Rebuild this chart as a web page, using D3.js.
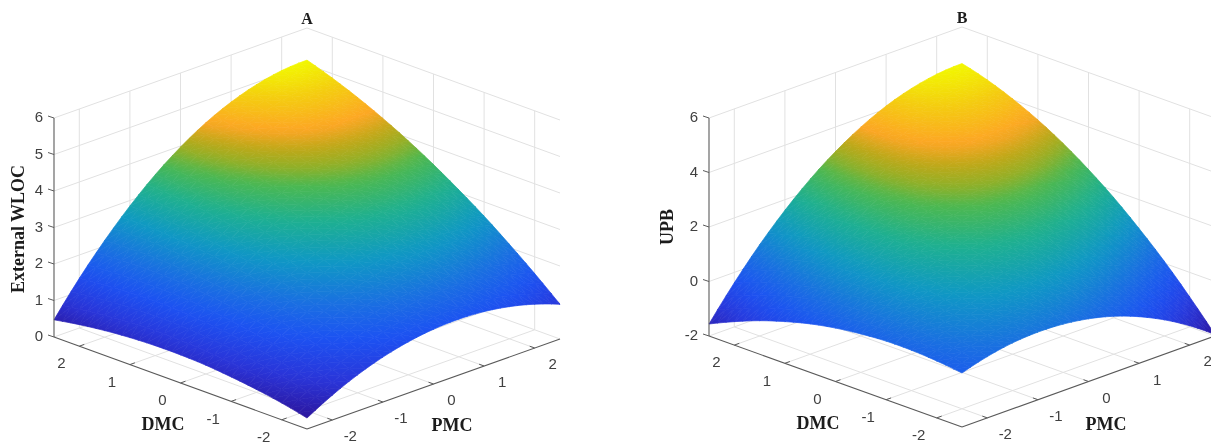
<!DOCTYPE html>
<html>
<head>
<meta charset="utf-8">
<title>External WLOC and UPB response surfaces</title>
<script src="https://d3js.org/d3.v7.min.js"></script>
<style>
    html, body { margin: 0; padding: 0; background: #fff; overflow: hidden; }
    svg { display: block; filter: blur(0.45px); }
</style>
</head>
<body>
<script>
// grid positions of the surfaces, same for DMC and PMC
const gridValues = [-2.5, -2, -1.5, -1, -0.5, 0, 0.5, 1, 1.5, 2, 2.5];
const axisTicks = [-2, -1, 0, 1, 2];
const axisLimits = [-2.5, 2.5];

// panel A, one row per DMC value, one column per PMC value
const wlocValues = [
    [0.30, 0.68, 0.99, 1.23, 1.40, 1.50, 1.53, 1.49, 1.38, 1.20, 0.95],
    [0.46, 0.89, 1.25, 1.54, 1.76, 1.90, 1.98, 1.98, 1.90, 1.76, 1.54],
    [0.58, 1.07, 1.48, 1.82, 2.08, 2.27, 2.39, 2.43, 2.39, 2.28, 2.09],
    [0.67, 1.21, 1.68, 2.07, 2.37, 2.61, 2.76, 2.84, 2.84, 2.76, 2.61],
    [0.74, 1.33, 1.84, 2.28, 2.63, 2.91, 3.10, 3.22, 3.25, 3.21, 3.08],
    [0.77, 1.41, 1.98, 2.46, 2.85, 3.17, 3.40, 3.56, 3.63, 3.61, 3.52],
    [0.77, 1.47, 2.08, 2.60, 3.04, 3.40, 3.67, 3.86, 3.96, 3.98, 3.92],
    [0.74, 1.49, 2.14, 2.71, 3.20, 3.59, 3.90, 4.13, 4.26, 4.31, 4.28],
    [0.68, 1.47, 2.18, 2.79, 3.32, 3.75, 4.10, 4.36, 4.53, 4.61, 4.60],
    [0.59, 1.43, 2.18, 2.84, 3.41, 3.88, 4.26, 4.55, 4.75, 4.86, 4.88],
    [0.47, 1.36, 2.15, 2.85, 3.46, 3.97, 4.39, 4.71, 4.94, 5.08, 5.12]
];

// panel B, same layout
const upbValues = [
    [-0.02, 0.25, 0.42, 0.48, 0.44, 0.30, 0.06, -0.29, -0.74, -1.29, -1.95],
    [0.09, 0.47, 0.74, 0.90, 0.96, 0.91, 0.76, 0.50, 0.14, -0.33, -0.90],
    [0.15, 0.63, 0.99, 1.25, 1.40, 1.45, 1.39, 1.22, 0.94, 0.56, 0.07],
    [0.15, 0.72, 1.18, 1.54, 1.78, 1.91, 1.94, 1.85, 1.66, 1.36, 0.94],
    [0.08, 0.75, 1.31, 1.75, 2.08, 2.30, 2.41, 2.41, 2.30, 2.07, 1.74],
    [-0.04, 0.72, 1.37, 1.90, 2.32, 2.62, 2.81, 2.89, 2.85, 2.70, 2.44],
    [-0.22, 0.63, 1.36, 1.98, 2.48, 2.86, 3.13, 3.29, 3.33, 3.25, 3.06],
    [-0.47, 0.47, 1.29, 1.99, 2.57, 3.03, 3.38, 3.61, 3.72, 3.71, 3.59],
    [-0.77, 0.25, 1.15, 1.93, 2.59, 3.13, 3.55, 3.85, 4.03, 4.09, 4.03],
    [-1.14, -0.04, 0.94, 1.80, 2.54, 3.15, 3.64, 4.01, 4.26, 4.38, 4.39],
    [-1.56, -0.38, 0.68, 1.61, 2.42, 3.10, 3.66, 4.10, 4.41, 4.60, 4.66]
];

// colour map, position is share of the z range
const colorStops = [0, 0.12, 0.25, 0.35, 0.48, 0.6, 0.7, 0.75, 0.8, 0.85, 0.93, 1];
const colorValues = ["#2c169e", "#2a34d8", "#1c52f2", "#1a6ee2", "#0f98c4", "#1eb090",
                     "#4cb850", "#90b028", "#c0a818", "#fda624", "#f4cc10", "#f2f700"];

const wlocTicks = [0, 1, 2, 3, 4, 5, 6];
const upbTicks = [-2, 0, 2, 4, 6];

const WIDTH = 1211;
const HEIGHT = 444;
const CELL_STEPS = 3; // each grid cell is painted in smaller pieces so no facets show

const svg = d3.select("body").append("svg")
    .attr("width", WIDTH)
    .attr("height", HEIGHT);
const defs = svg.append("defs");

const gridColor = "#e1e1e1";
const axisColor = "#5a5a5a";
const textColor = "#404040";
const sansFont = "'Liberation Sans', Arial, sans-serif";
const serifFont = "'Liberation Serif', 'Times New Roman', serif";

let gradientCount = 0;

// cubic through four neighbours, only used to paint between the grid values
function spline(a, b, c, d, t) {
    return b + 0.5 * t * (c - a + t * (2 * a - 5 * b + 4 * c - d + t * (3 * (b - c) + d - a)));
}

function pickAlong(row, i, t) {
    const n = row.length - 1;
    const at = k => k < 0 ? 3 * row[0] - 3 * row[1] + row[2]
        : k > n ? 3 * row[n] - 3 * row[n - 1] + row[n - 2]
        : row[k];
    return spline(at(i - 1), at(i), at(i + 1), at(i + 2), t);
}

function surfaceAt(values, i, j, s, t) {
    if (t === 1) { j += 1; t = 0; }
    if (s === 1) { i += 1; s = 0; }
    if (j >= values[0].length - 1) { j = values[0].length - 2; t = 1; }
    if (i >= values.length - 1) { i = values.length - 2; s = 1; }
    const column = values.map(row => pickAlong(row, j, t));
    return pickAlong(column, i, s);
}

function drawPanel(opt) {
    const g = svg.append("g").attr("id", "panel-" + opt.title);

    // the two floor axes run left->front and front->right on screen
    const xD = d3.scaleLinear().domain(axisLimits).range([0, -opt.spanX]);
    const xP = d3.scaleLinear().domain(axisLimits).range([0, opt.spanX]);
    const yD = d3.scaleLinear().domain(axisLimits).range([0, -opt.riseD]);
    const yP = d3.scaleLinear().domain(axisLimits).range([0, -opt.riseP]);
    const zS = d3.scaleLinear().domain(opt.zDomain).range([0, -opt.zHeight]);

    const project = (d, p, z) => [
        opt.frontX + xD(d) + xP(p),
        opt.frontY + yD(d) + yP(p) + zS(z)
    ];

    const line = (a, b, color, width) => g.append("line")
        .attr("x1", a[0]).attr("y1", a[1])
        .attr("x2", b[0]).attr("y2", b[1])
        .style("stroke", color)
        .style("stroke-width", width);

    const dLo = axisLimits[0], dHi = axisLimits[1];
    const zLo = opt.zDomain[0], zHi = opt.zDomain[1];

    // floor grid
    axisTicks.forEach(t => {
        line(project(t, dLo, zLo), project(t, dHi, zLo), gridColor, 1);
        line(project(dLo, t, zLo), project(dHi, t, zLo), gridColor, 1);
        // verticals on the two back walls
        line(project(dHi, t, zLo), project(dHi, t, zHi), gridColor, 1);
        line(project(t, dHi, zLo), project(t, dHi, zHi), gridColor, 1);
    });
    // horizontals on the back walls
    opt.zTicks.forEach(t => {
        line(project(dHi, dLo, t), project(dHi, dHi, t), gridColor, 1);
        line(project(dHi, dHi, t), project(dLo, dHi, t), gridColor, 1);
    });

    // surface colours
    const zAll = opt.values.flat();
    const zMin = d3.min(zAll), zMax = d3.max(zAll);
    const share = d3.scaleLinear().domain([zMin, zMax]).range([0, 1]);
    const colormap = d3.scaleLinear().domain(colorStops).range(colorValues);

    // each triangle gets a gradient along its steepest screen direction
    function drawTriangle(group, pts) {
        const s = pts.map(q => project(q[0], q[1], q[2]));
        const z = pts.map(q => q[2]);
        const x1 = s[1][0] - s[0][0], y1 = s[1][1] - s[0][1], z1 = z[1] - z[0];
        const x2 = s[2][0] - s[0][0], y2 = s[2][1] - s[0][1], z2 = z[2] - z[0];
        const det = x1 * y2 - x2 * y1;
        const gx = (z1 * y2 - z2 * y1) / det;
        const gy = (x1 * z2 - x2 * z1) / det;
        const len2 = gx * gx + gy * gy;
        const lo = d3.min(z), hi = d3.max(z);
        const start = s[z.indexOf(lo)];
        const id = "tri" + (gradientCount++);
        const grad = defs.append("linearGradient")
            .attr("id", id)
            .attr("gradientUnits", "userSpaceOnUse")
            .attr("x1", start[0])
            .attr("y1", start[1])
            .attr("x2", start[0] + gx * (hi - lo) / (len2 || 1))
            .attr("y2", start[1] + gy * (hi - lo) / (len2 || 1));
        [0, 1].forEach(f => {
            grad.append("stop")
                .attr("offset", f)
                .attr("stop-color", colormap(share(lo + (hi - lo) * f)));
        });
        group.append("path")
            .attr("d", "M" + s.map(q => q.join(",")).join("L") + "Z")
            .style("fill", "url(#" + id + ")")
            .style("stroke", "url(#" + id + ")")
            .style("stroke-width", 0.7)
            .style("stroke-linejoin", "round");
    }

    // paint from the back corner towards the front
    const surface = g.append("g").attr("class", "surface");
    const point = (i, j, a, b) => {
        const s = a / CELL_STEPS, t = b / CELL_STEPS;
        return [
            gridValues[i] + (gridValues[i + 1] - gridValues[i]) * s,
            gridValues[j] + (gridValues[j + 1] - gridValues[j]) * t,
            surfaceAt(opt.values, i, j, s, t)
        ];
    };
    for (let i = gridValues.length - 2; i >= 0; i--) {
        for (let a = CELL_STEPS - 1; a >= 0; a--) {
            for (let j = gridValues.length - 2; j >= 0; j--) {
                for (let b = CELL_STEPS - 1; b >= 0; b--) {
                    const p00 = point(i, j, a, b);
                    const p10 = point(i, j, a + 1, b);
                    const p11 = point(i, j, a + 1, b + 1);
                    const p01 = point(i, j, a, b + 1);
                    drawTriangle(surface, [p10, p11, p01]);
                    drawTriangle(surface, [p00, p10, p01]);
                }
            }
        }
    }

    // axes on the outside of the box
    line(project(dHi, dLo, zLo), project(dHi, dLo, zHi), axisColor, 1.1);
    line(project(dHi, dLo, zLo), project(dLo, dLo, zLo), axisColor, 1.1);
    line(project(dLo, dLo, zLo), project(dLo, dHi, zLo), axisColor, 1.1);

    const label = (x, y, text) => g.append("text")
        .attr("x", x).attr("y", y)
        .attr("dy", "0.35em")
        .attr("text-anchor", "middle")
        .style("font-family", sansFont)
        .style("font-size", "15px")
        .style("fill", textColor)
        .text(text);

    axisTicks.forEach(t => {
        const onD = project(t, dLo, zLo);
        line(onD, [onD[0] + 5, onD[1] - 1.8], axisColor, 1);
        label(onD[0] - 18, onD[1] + 17, t);
        const onP = project(dLo, t, zLo);
        line(onP, [onP[0] - 5, onP[1] - 1.8], axisColor, 1);
        label(onP[0] + 18, onP[1] + 16, t);
    });

    opt.zTicks.forEach(t => {
        const onZ = project(dHi, dLo, t);
        line(onZ, [onZ[0] - 6, onZ[1] - 2], axisColor, 1);
        label(onZ[0] - 11, onZ[1] - 1, t).attr("text-anchor", "end");
    });

    const bold = (x, y, size, text) => g.append("text")
        .attr("x", x).attr("y", y)
        .attr("dy", "0.35em")
        .attr("text-anchor", "middle")
        .style("font-family", serifFont)
        .style("font-weight", "bold")
        .style("font-size", size + "px")
        .style("fill", "#1c1c1c")
        .text(text);

    bold(opt.frontX, opt.titleY, 16, opt.title);
    bold(opt.dmcX, opt.dmcY, 18, "DMC");
    bold(opt.pmcX, opt.pmcY, 18, "PMC");
    bold(opt.zLabelX, opt.zLabelY, 18, opt.zLabel)
        .attr("transform", "rotate(-90," + opt.zLabelX + "," + opt.zLabelY + ")");
}

drawPanel({
    title: "A", values: wlocValues, zTicks: wlocTicks, zDomain: [0, 6], zLabel: "External WLOC",
    frontX: 307, frontY: 429, spanX: 253, riseD: 92, riseP: 90, zHeight: 219,
    titleY: 18, dmcX: 163, dmcY: 424, pmcX: 452, pmcY: 425, zLabelX: 18, zLabelY: 229
});

drawPanel({
    title: "B", values: upbValues, zTicks: upbTicks, zDomain: [-2, 6], zLabel: "UPB",
    frontX: 962, frontY: 427, spanX: 253, riseD: 91, riseP: 91, zHeight: 218,
    titleY: 17, dmcX: 818, dmcY: 423, pmcX: 1106, pmcY: 424, zLabelX: 667, zLabelY: 227
});
</script>
</body>
</html>
